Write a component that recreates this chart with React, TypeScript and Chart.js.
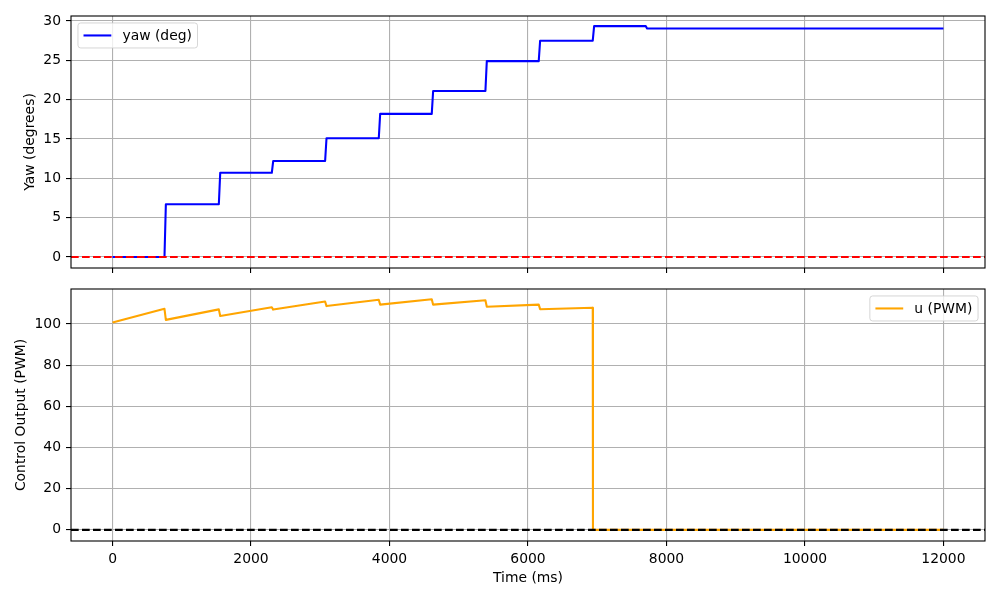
import React, { useEffect, useRef } from 'react';
import { Chart, registerables } from 'chart.js';

Chart.register(...registerables);

const FONT = "'DejaVu Sans', sans-serif";
const FS = 13.9;
const GRID = '#b0b0b0';

// times (ms) where the yaw jumps / the PWM output resets
const stepTimes = [750, 1535, 2300, 3070, 3845, 4610, 5385, 6155, 6935, 7700];
// yaw level held before / after each jump
const yawLevels = [0, 6.7, 10.7, 12.2, 15.1, 18.2, 21.1, 24.9, 27.5, 29.35, 29.05];
// PWM at the start and end of each ramp
const uStart = [100.7, 102.0, 103.9, 107.0, 108.7, 109.4, 109.4, 108.4, 107.2];
const uEnd = [107.4, 107.1, 108.1, 110.9, 111.8, 112.0, 111.5, 109.4, 107.9];
const uOff = 0;
const endTime = 12000;
const RISE = 20;

const timeTicks = [0, 2000, 4000, 6000, 8000, 10000, 12000];
const yawTicks = [0, 5, 10, 15, 20, 25, 30];
const pwmTicks = [0, 20, 40, 60, 80, 100];

const yawPoints: { x: number; y: number }[] = [{ x: 0, y: yawLevels[0] }];
stepTimes.forEach((t, i) => {
  yawPoints.push({ x: t, y: yawLevels[i] });
  yawPoints.push({ x: t + RISE, y: yawLevels[i + 1] });
});
yawPoints.push({ x: endTime, y: yawLevels[yawLevels.length - 1] });

const uPoints: { x: number; y: number }[] = [];
uStart.forEach((v, k) => {
  const t0 = k === 0 ? 0 : stepTimes[k - 1] + RISE;
  uPoints.push({ x: t0, y: v });
  uPoints.push({ x: stepTimes[k], y: uEnd[k] });
});
uPoints.push({ x: stepTimes[uStart.length - 1] + 3, y: uOff });
uPoints.push({ x: endTime, y: uOff });

type PanelOpts = {
  hlineColor: string;
  label: string;
  color: string;
  side: 'left' | 'right';
};

const panelPlugin = (p: PanelOpts) => ({
  id: 'panel',
  afterDatasetsDraw(chart: any) {
    const { ctx, chartArea: a, scales } = chart;
    ctx.save();
    // axhline at 0
    const y0 = scales.y.getPixelForValue(0);
    ctx.beginPath();
    ctx.rect(a.left, a.top, a.right - a.left, a.bottom - a.top);
    ctx.clip();
    ctx.setLineDash([7.7, 3.3]);
    ctx.strokeStyle = p.hlineColor;
    ctx.lineWidth = 2.08;
    ctx.beginPath();
    ctx.moveTo(a.left, y0);
    ctx.lineTo(a.right, y0);
    ctx.stroke();
    ctx.restore();

    // frame
    ctx.save();
    ctx.strokeStyle = 'black';
    ctx.lineWidth = 1.1;
    ctx.strokeRect(a.left, a.top, a.right - a.left, a.bottom - a.top);

    // legend
    const pad = 0.4 * FS;
    const hl = 2 * FS;
    const htp = 0.8 * FS;
    const bap = 0.5 * FS;
    ctx.font = `${FS}px ${FONT}`;
    const tw = ctx.measureText(p.label).width;
    const w = pad * 2 + hl + htp + tw;
    const h = pad * 2 + FS;
    const bx = p.side === 'left' ? a.left + bap : a.right - bap - w;
    const by = a.top + bap;
    ctx.beginPath();
    ctx.roundRect(bx, by, w, h, 2.8);
    ctx.fillStyle = 'rgba(255,255,255,0.8)';
    ctx.fill();
    ctx.strokeStyle = 'rgba(204,204,204,0.8)';
    ctx.lineWidth = 1.0;
    ctx.stroke();
    const cy = by + h / 2;
    ctx.beginPath();
    ctx.strokeStyle = p.color;
    ctx.lineWidth = 2.08;
    ctx.moveTo(bx + pad, cy);
    ctx.lineTo(bx + pad + hl, cy);
    ctx.stroke();
    ctx.fillStyle = 'black';
    ctx.textBaseline = 'middle';
    ctx.textAlign = 'left';
    ctx.fillText(p.label, bx + pad + hl + htp, cy + 0.5);
    ctx.restore();
  },
});

const gridOpts = {
  color: GRID,
  lineWidth: 1.1,
  tickColor: 'black',
  tickWidth: 1.1,
  tickLength: 5,
};

const tickFont = { family: FONT, size: FS };

const makeChart = (
  canvas: HTMLCanvasElement,
  points: { x: number; y: number }[],
  color: string,
  yMin: number,
  yMax: number,
  yTicks: number[],
  xLabels: boolean,
  xHeight: number,
  padTop: number,
  p: PanelOpts
) =>
  new Chart(canvas, {
    type: 'line',
    data: {
      datasets: [
        {
          label: p.label,
          data: points,
          borderColor: color,
          borderWidth: 2.08,
          pointRadius: 0,
          tension: 0,
          borderJoinStyle: 'round',
          fill: false,
        },
      ],
    },
    options: {
      animation: false,
      responsive: false,
      devicePixelRatio: 1,
      events: [],
      layout: { autoPadding: false, padding: { top: padTop, right: 15, bottom: 0, left: 0 } },
      plugins: { legend: { display: false }, tooltip: { enabled: false } },
      scales: {
        x: {
          type: 'linear',
          min: -600,
          max: 12600,
          afterBuildTicks: (s: any) => {
            s.ticks = timeTicks.map((v) => ({ value: v }));
          },
          afterFit: (s: any) => {
            s.height = xHeight;
          },
          grid: gridOpts,
          border: { display: false },
          ticks: {
            display: xLabels,
            padding: 5,
            color: 'black',
            font: tickFont,
            maxRotation: 0,
            autoSkip: false,
            callback: (v: any) => String(v),
          },
        },
        y: {
          type: 'linear',
          min: yMin,
          max: yMax,
          afterBuildTicks: (s: any) => {
            s.ticks = yTicks.map((v) => ({ value: v }));
          },
          afterFit: (s: any) => {
            s.width = 71;
          },
          grid: gridOpts,
          border: { display: false },
          ticks: {
            padding: 5,
            color: 'black',
            font: tickFont,
            callback: (v: any) => String(v),
          },
        },
      },
    },
    plugins: [panelPlugin(p)],
  } as any);

const labelStyle: React.CSSProperties = {
  position: 'absolute',
  fontFamily: FONT,
  fontSize: FS,
  lineHeight: 1,
  whiteSpace: 'nowrap',
  color: 'black',
};

const App = () => {
  const topRef = useRef<HTMLCanvasElement>(null);
  const bottomRef = useRef<HTMLCanvasElement>(null);

  useEffect(() => {
    if (!topRef.current || !bottomRef.current) return;
    const top = makeChart(topRef.current, yawPoints, 'blue', -1.4, 30.64, yawTicks, false, 17, 16, {
      hlineColor: 'red',
      label: 'yaw (deg)',
      color: 'blue',
      side: 'left',
    });
    const bottom = makeChart(bottomRef.current, uPoints, 'orange', -5.4, 117.0, pwmTicks, true, 59, 19, {
      hlineColor: 'black',
      label: 'u (PWM)',
      color: 'orange',
      side: 'right',
    });
    return () => {
      top.destroy();
      bottom.destroy();
    };
  }, []);

  return (
    <div style={{ position: 'fixed', left: 0, top: 0, width: 1000, height: 600, background: 'white' }}>
      <canvas ref={topRef} width={1000} height={285} style={{ position: 'absolute', left: 0, top: 0 }} />
      <canvas ref={bottomRef} width={1000} height={330} style={{ position: 'absolute', left: 0, top: 270 }} />
      <div style={{ ...labelStyle, left: 30, top: 142, transform: 'translate(-50%, -50%) rotate(-90deg)' }}>
        Yaw (degrees)
      </div>
      <div style={{ ...labelStyle, left: 21, top: 415, transform: 'translate(-50%, -50%) rotate(-90deg)' }}>
        Control Output (PWM)
      </div>
      <div style={{ ...labelStyle, left: 528, top: 578, transform: 'translate(-50%, -50%)' }}>Time (ms)</div>
    </div>
  );
};

export default App;
